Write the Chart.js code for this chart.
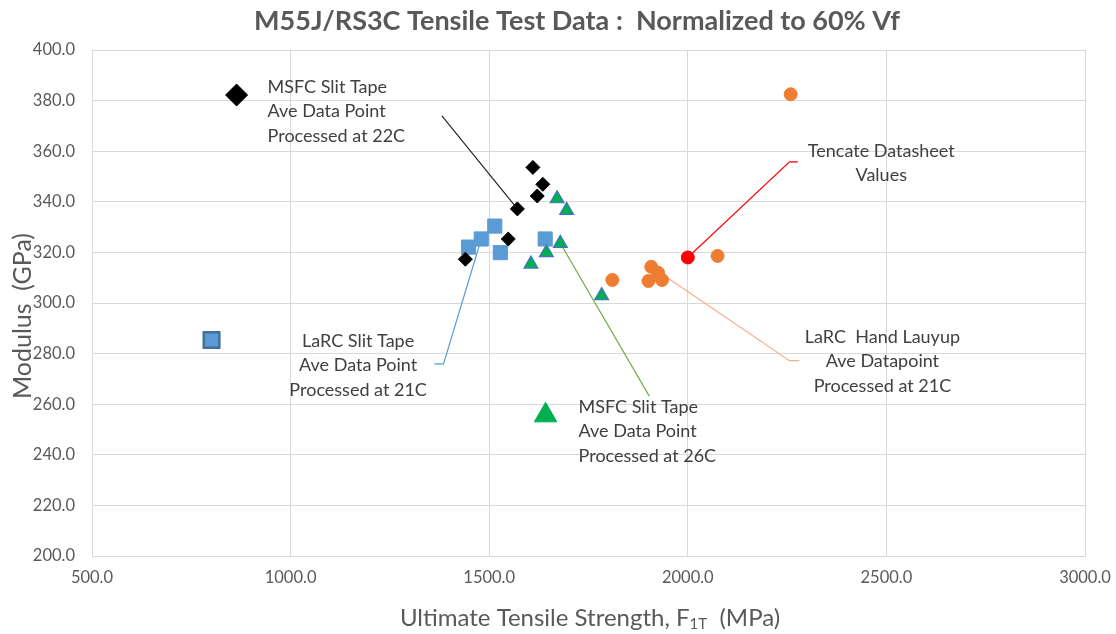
<!DOCTYPE html>
<html>
<head>
<meta charset="utf-8">
<script src="https://cdn.jsdelivr.net/npm/chart.js@4.4.0/dist/chart.umd.min.js"></script>
<style>
  html, body { margin: 0; padding: 0; background: #ffffff; }
  #wrap { width: 1116px; height: 634px; }
</style>
</head>
<body>
<div id="wrap"><canvas id="tensileChart" width="1116" height="634"></canvas></div>
<script>
// MSFC slit tape, processed at 22C (black diamonds)
const msfc22Strength = [1610, 1635, 1621, 1571, 1548, 1440];
const msfc22Modulus = [353.6, 346.9, 342.3, 337.2, 325.3, 317.3];
const msfc22AveStrength = [864];
const msfc22AveModulus = [382.2];

// LaRC slit tape, processed at 21C (blue squares)
const larcSlitStrength = [1448, 1480, 1514, 1528, 1641];
const larcSlitModulus = [322.1, 325.3, 330.4, 319.9, 325.3];
const larcSlitAveStrength = [801];
const larcSlitAveModulus = [285.4];

// MSFC slit tape, processed at 26C (green triangles)
const msfc26Strength = [1671, 1695, 1679, 1644, 1605, 1783];
const msfc26Modulus = [341.2, 336.6, 323.6, 319.9, 315.4, 302.9];
const msfc26AveStrength = [1642];
const msfc26AveModulus = [255.6];

// LaRC hand layup, processed at 21C (orange circles)
const larcHandStrength = [2259, 2075, 1810, 1908, 1925, 1901, 1935];
const larcHandModulus = [382.5, 318.6, 309.1, 314.3, 312.0, 308.7, 309.1];

// Tencate datasheet values (red circle)
const tencateStrength = [2000];
const tencateModulus = [318.0];

const xTicks = [500, 1000, 1500, 2000, 2500, 3000];
const yTicks = [200, 220, 240, 260, 280, 300, 320, 340, 360, 380, 400];

function toPoints(xs, ys) {
    return xs.map(function (x, i) { return { x: x, y: ys[i] }; });
}

// leader lines, in data units
const leaderMsfc22 = [[1381, 374.0], [1571, 337.2]];
const leaderLarcSlit = [[1362, 275.9], [1385, 275.9], [1480, 325.3]];
const leaderMsfc26 = [[1679, 323.6], [1903, 263.2]];
const leaderTencate = [[2000, 318.0], [2256, 355.8], [2277, 355.8]];
const leaderLarcHand = [[1935, 311.5], [2256, 277.2], [2281, 277.2]];

const notes = [
    { lines: ['MSFC Slit Tape', 'Ave Data Point', 'Processed at 22C'], x: 942, y: 385.4, align: 'left' },
    { lines: ['Tencate Datasheet', 'Values'], x: 2487, y: 360.1, align: 'center' },
    { lines: ['LaRC  Hand Lauyup', 'Ave Datapoint', 'Processed at 21C'], x: 2490, y: 286.6, align: 'center' },
    { lines: ['LaRC Slit Tape', 'Ave Data Point', 'Processed at 21C'], x: 1170, y: 285.0, align: 'center' },
    { lines: ['MSFC Slit Tape', 'Ave Data Point', 'Processed at 26C'], x: 1725, y: 258.9, align: 'left' }
];

function leader(pts, color) {
    return {
        data: pts.map(function (p) { return { x: p[0], y: p[1] }; }),
        showLine: true,
        borderColor: color,
        borderWidth: 1.2,
        pointRadius: 0,
        order: 10
    };
}

const noteFont = '18px Lato';
const textGray = '#404040';
const axisGray = '#595959';

const notesPlugin = {
    id: 'notesPlugin',
    afterDatasetsDraw: function (chart) {
        const ctx = chart.ctx;
        const xs = chart.scales.x;
        const ys = chart.scales.y;
        ctx.save();
        ctx.font = noteFont;
        ctx.fillStyle = textGray;
        ctx.textBaseline = 'middle';
        notes.forEach(function (n) {
            const px = xs.getPixelForValue(n.x);
            const py = ys.getPixelForValue(n.y);
            ctx.textAlign = n.align;
            n.lines.forEach(function (line, i) {
                ctx.fillText(line, px, py + i * 24.5);
            });
        });

        // chart title
        ctx.fillStyle = axisGray;
        ctx.font = 'bold 27px Lato';
        ctx.textAlign = 'center';
        ctx.fillText('M55J/RS3C Tensile Test Data :  Normalized to 60% Vf', 577, 21);

        // y axis title
        ctx.font = '25px Lato';
        ctx.save();
        ctx.translate(23, 316);
        ctx.rotate(-Math.PI / 2);
        ctx.fillText('Modulus  (GPa)', 0, 0);
        ctx.restore();

        // x axis title with subscript
        const partA = 'Ultimate Tensile Strength, F';
        const partB = '1T';
        const partC = '  (MPa)';
        ctx.font = '24px Lato';
        const wA = ctx.measureText(partA).width;
        const wC = ctx.measureText(partC).width;
        ctx.font = '15px Lato';
        const wB = ctx.measureText(partB).width;
        let x0 = 590 - (wA + wB + wC) / 2;
        const y0 = 618;
        ctx.textAlign = 'left';
        ctx.font = '24px Lato';
        ctx.fillText(partA, x0, y0);
        x0 += wA;
        ctx.font = '15px Lato';
        ctx.fillText(partB, x0, y0 + 6);
        x0 += wB;
        ctx.font = '24px Lato';
        ctx.fillText(partC, x0, y0);
        ctx.restore();
    }
};

const ctx = document.getElementById('tensileChart').getContext('2d');
const tensileChart = new Chart(ctx, {
    type: 'scatter',
    data: {
        datasets: [
            {
                label: 'MSFC Slit Tape 22C',
                data: toPoints(msfc22Strength, msfc22Modulus),
                pointStyle: 'rectRot',
                pointRadius: 7,
                backgroundColor: '#000000',
                borderColor: '#000000',
                borderWidth: 1,
                order: 1
            },
            {
                label: 'MSFC Slit Tape 22C Ave',
                data: toPoints(msfc22AveStrength, msfc22AveModulus),
                pointStyle: 'rectRot',
                pointRadius: 11,
                backgroundColor: '#000000',
                borderColor: '#000000',
                borderWidth: 1,
                order: 1
            },
            {
                label: 'LaRC Slit Tape 21C',
                data: toPoints(larcSlitStrength, larcSlitModulus),
                pointStyle: 'rect',
                pointRadius: 10,
                backgroundColor: '#5b9bd5',
                borderColor: '#5b9bd5',
                borderWidth: 1,
                order: 3
            },
            {
                label: 'LaRC Slit Tape 21C Ave',
                data: toPoints(larcSlitAveStrength, larcSlitAveModulus),
                pointStyle: 'rect',
                pointRadius: 11,
                backgroundColor: '#5b9bd5',
                borderColor: '#41719c',
                borderWidth: 2.5,
                order: 3
            },
            {
                label: 'MSFC Slit Tape 26C',
                data: toPoints(msfc26Strength, msfc26Modulus),
                pointStyle: 'triangle',
                pointRadius: 8,
                backgroundColor: '#00b050',
                borderColor: '#4472c4',
                borderWidth: 1.2,
                order: 2
            },
            {
                label: 'MSFC Slit Tape 26C Ave',
                data: toPoints(msfc26AveStrength, msfc26AveModulus),
                pointStyle: 'triangle',
                pointRadius: 13,
                backgroundColor: '#00b050',
                borderColor: '#00b050',
                borderWidth: 1,
                order: 2
            },
            {
                label: 'LaRC Hand Layup 21C',
                data: toPoints(larcHandStrength, larcHandModulus),
                pointStyle: 'circle',
                pointRadius: 6.5,
                backgroundColor: '#ed7d31',
                borderColor: '#ed7d31',
                borderWidth: 1,
                order: 4
            },
            {
                label: 'Tencate Datasheet',
                data: toPoints(tencateStrength, tencateModulus),
                pointStyle: 'circle',
                pointRadius: 6.5,
                backgroundColor: '#ff0000',
                borderColor: '#ff0000',
                borderWidth: 1,
                order: 0
            },
            leader(leaderMsfc22, '#262626'),
            leader(leaderLarcSlit, '#5b9bd5'),
            leader(leaderMsfc26, '#70ad47'),
            leader(leaderTencate, '#ff0000'),
            leader(leaderLarcHand, '#f4b183')
        ]
    },
    options: {
        responsive: false,
        animation: false,
        devicePixelRatio: 1,
        layout: { padding: { left: 0, right: 31, top: 50, bottom: 0 } },
        plugins: {
            legend: { display: false },
            tooltip: { enabled: false },
            title: { display: false }
        },
        scales: {
            x: {
                type: 'linear',
                min: 500,
                max: 3000,
                afterBuildTicks: function (scale) {
                    scale.ticks = xTicks.map(function (v) { return { value: v }; });
                },
                afterFit: function (scale) {
                    scale.height = 78;
                    scale.paddingLeft = 0;
                    scale.paddingRight = 0;
                },
                grid: { color: '#d9d9d9', drawTicks: false },
                border: { color: '#d9d9d9' },
                ticks: {
                    padding: 12,
                    color: axisGray,
                    font: { family: 'Lato', size: 16.5 },
                    callback: function (v) { return Number(v).toFixed(1); }
                }
            },
            y: {
                type: 'linear',
                min: 200,
                max: 400,
                afterBuildTicks: function (scale) {
                    scale.ticks = yTicks.map(function (v) { return { value: v }; });
                },
                afterFit: function (scale) {
                    scale.width = 92;
                    scale.paddingTop = 0;
                    scale.paddingBottom = 0;
                },
                grid: { color: '#d9d9d9', drawTicks: false },
                border: { color: '#d9d9d9' },
                ticks: {
                    padding: 17,
                    color: axisGray,
                    font: { family: 'Lato', size: 16.5 },
                    callback: function (v) { return Number(v).toFixed(1); }
                }
            }
        }
    },
    plugins: [notesPlugin]
});
</script>
</body>
</html>
